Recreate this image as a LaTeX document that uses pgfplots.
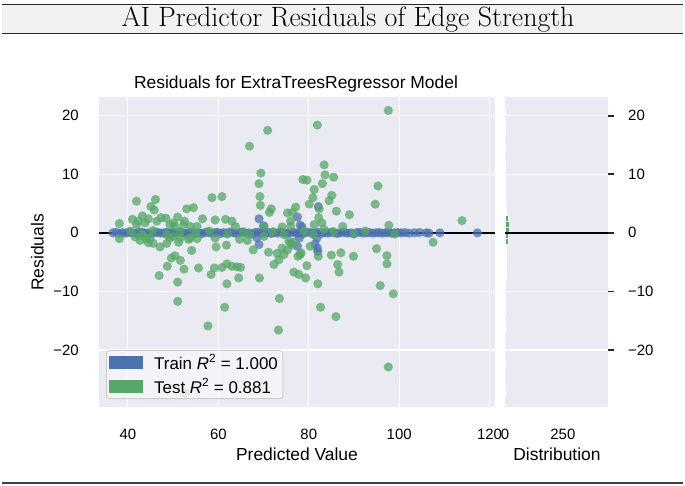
\documentclass[border=0pt]{standalone}
\usepackage{fontspec}
\usepackage{pgfplots}
\pgfplotsset{compat=1.18}
\newfontfamily\arial{Liberation Sans}
\definecolor{bggray}{HTML}{EAEAF2}
\definecolor{trainblue}{HTML}{4C72B0}
\definecolor{testgreen}{HTML}{55A868}
\definecolor{bandgray}{HTML}{F2F2F2}

\pgfplotsset{
  sns/.style={
    scale only axis,
    height=310bp,
    axis background/.style={fill=bggray},
    axis line style={draw=none},
    major grid style={white, line width=1.1bp},
    ymin=-29.73, ymax=23.19,
    ytick={-20,-10,0,10,20},
    yticklabels={−20,−10,0,10,20},
    ticklabel style={font=\arial\fontsize{15}{18}\selectfont, inner sep=0pt},
    xticklabel style={anchor=base, yshift=-32bp},
  },
}

\begin{document}
\begin{tikzpicture}
\useasboundingbox (0,0) rectangle (685bp,-486bp);

% header band
\fill[bandgray] (2bp,-4.7bp) rectangle (683bp,-33.7bp);
\draw[black!85, line width=1bp] (2bp,-4.7bp) -- (683bp,-4.7bp);
\draw[black!85, line width=1bp] (2bp,-33.7bp) -- (683bp,-33.7bp);
\node[anchor=base, inner sep=0pt, font=\fontsize{28}{32}\selectfont] at (348bp,-26.5bp)
  {AI Predictor Residuals of Edge Strength};
\draw[black!75, line width=2bp] (2bp,-482.7bp) -- (683bp,-482.7bp);

% residuals vs predicted
\begin{axis}[sns,
  at={(99bp,-407bp)}, anchor=south west, width=396bp,
  xmin=33.6, xmax=121.2,
  xtick={40,60,80,100,120}, xticklabels={40,60,80,100,120},
  grid=major, major tick length=0pt,
  yticklabel style={anchor=east, xshift=-20bp},
  legend cell align=left,
  legend style={at={(axis description cs:0,0)}, anchor=south west,
    xshift=7bp, yshift=8bp,
    fill=bggray!40!white, fill opacity=0.8, text opacity=1, draw opacity=1,
    draw=black!20, line width=0.8bp, rounded corners=3bp,
    font=\arial\fontsize{17}{20}\selectfont,
    inner xsep=3bp, inner ysep=2bp, row sep=4bp,
    nodes={inner sep=2bp},
    /tikz/every odd column/.append style={column sep=9bp}},
]
\addlegendimage{legend image code/.code={\fill[trainblue, fill opacity=1, sharp corners] (0bp,-6bp) rectangle (33bp,6bp);}}
\addlegendentry{Train \textit{R}\textsuperscript{2} = 1.000}
\addlegendimage{legend image code/.code={\fill[testgreen, fill opacity=1, sharp corners] (0bp,-6bp) rectangle (33bp,6bp);}}
\addlegendentry{Test \textit{R}\textsuperscript{2} = 0.881}

% train residuals
\addplot[only marks, mark=*, mark size=4.6bp, forget plot, color=trainblue,
  mark options={draw opacity=0, fill=trainblue, fill opacity=0.75}] coordinates {
(36.7,0.00) (37.4,0.10) (38.1,-0.10) (38.8,0.05) (39.5,-0.05) (40.2,0.10)
(40.9,0.00) (41.6,-0.10) (42.3,0.05) (43.0,0.15) (43.7,-0.05) (44.4,0.00)
(45.1,-0.15) (45.8,0.05) (46.5,0.10) (47.2,-0.05) (47.9,0.00) (48.6,0.10)
(49.3,-0.10) (50.0,0.05) (50.7,-0.05) (51.4,0.15) (52.1,0.00) (52.8,-0.10)
(53.5,0.05) (54.2,0.10) (54.9,-0.05) (55.6,0.00) (56.3,-0.15) (57.0,0.05)
(57.7,0.10) (58.4,-0.05) (59.1,0.00) (59.8,0.10) (60.5,-0.10) (61.2,0.05)
(61.9,-0.05) (62.6,0.15) (63.3,0.00) (64.0,-0.10) (64.7,0.05) (65.4,0.10)
(66.1,-0.05) (66.8,0.00) (67.5,-0.15) (68.2,0.05) (68.9,0.10) (69.6,-0.05)
(70.3,0.00) (71.0,0.10) (71.7,-0.10) (72.4,0.05) (73.1,-0.05) (73.8,0.15)
(74.5,0.00) (75.2,-0.10) (75.9,0.05) (76.6,0.10) (77.3,-0.05) (78.0,0.00)
(78.7,-0.15) (79.4,0.05) (80.1,0.10) (80.8,-0.05) (81.5,0.00) (82.2,0.10)
(82.9,-0.10) (83.6,0.05) (84.3,-0.05) (85.0,0.15) (85.7,0.00) (86.4,-0.10)
(87.1,0.05) (87.8,0.10) (88.5,-0.05) (89.2,0.00) (89.9,-0.10) (90.6,0.05)
(91.3,0.10) (92.0,-0.05) (92.7,0.00) (93.4,0.05) (94.1,-0.05) (94.8,0.00)
(95.5,0.05) (96.2,-0.05) (96.9,0.00) (97.6,0.05) (98.3,-0.05) (99.0,0.00)
(99.7,0.05) (100.5,0.00) (101.3,0.05) (102.2,-0.05) (103.4,0.00) (104.5,0.05)
(106.0,0.00) (106.6,-0.05) (109.0,0.00) (117.3,0.00)
(69.0,2.4) (69.0,-2.0) (77.5,2.7) (78.1,1.3) (77.9,-0.9) (77.5,-2.3)
(82.1,4.5) (81.8,-0.9) (81.9,-2.6) (82.0,-3.2) (78.5,1.0) (81.4,-1.9)
(70.0,1.2) (68.5,-0.8)
};

% test residuals
\addplot[only marks, mark=*, mark size=4.6bp, forget plot, color=testgreen,
  mark options={draw opacity=0, fill=testgreen, fill opacity=0.75}] coordinates {
(97.6,20.9) (81.9,18.4) (70.9,17.5) (66.9,14.8) (83.4,11.6) (69.4,10.2)
(83.6,9.9) (85.5,9.5) (78.7,9.1) (79.6,9.0) (69.0,8.4) (83.0,8.4)
(95.3,8.0) (81.2,7.4) (69.2,6.2) (85.1,6.4) (80.9,6.0) (84.5,5.5)
(94.7,4.9) (41.9,5.4) (46.1,5.7) (45.1,4.5) (45.8,3.9) (58.6,6.0)
(60.8,6.2) (53.0,4.1) (54.5,4.3) (69.3,4.7) (71.7,4.1) (71.3,3.5)
(77.1,4.4) (75.3,3.4) (76.4,3.5) (80.1,4.9) (82.3,4.1) (86.1,3.7)
(89.0,3.1) (41.0,2.3) (43.2,2.9) (44.5,2.4) (47.3,2.6) (48.4,2.5)
(51.0,2.7) (56.5,2.4) (59.3,2.2) (61.6,2.3) (63.0,2.0) (76.0,2.0)
(82.2,2.6) (82.9,1.7) (87.5,1.1) (97.7,1.3) (113.9,2.1) (38.1,1.6)
(41.9,1.4) (50.1,1.7) (52.3,1.4) (53.8,1.1) (63.8,1.1) (70.1,1.1)
(74.1,1.0) (76.0,1.1) (81.2,1.4) (83.4,0.6) (42.3,2.0) (43.8,1.7)
(46.4,2.0) (49.3,1.4) (50.4,1.1) (52.5,2.0) (55.3,1.1)
(38.1,-1.0) (41.6,-0.7) (42.7,-1.3) (44.5,-1.7) (45.6,-1.8) (47.1,-2.4)
(48.6,-1.8) (51.2,-1.6) (53.8,-0.9) (59.3,-0.9) (59.5,-2.4) (61.8,-2.1)
(64.7,-1.1) (66.4,-1.3) (67.7,-2.9) (70.1,-0.6) (71.1,-3.3) (73.0,-3.5)
(74.1,-2.6) (76.0,-1.8) (76.7,-1.6) (78.1,-3.7) (80.3,-2.3) (82.1,-4.0)
(85.0,-3.8) (87.1,-3.4) (89.9,-4.0) (95.0,-2.7) (97.3,-3.9) (107.5,-1.6)
(50.4,-3.9) (49.6,-4.3) (51.6,-4.7) (54.1,-3.0) (48.7,-5.7) (52.4,-6.2)
(55.6,-6.0) (58.4,-7.1) (59.1,-6.0) (60.8,-5.9) (61.9,-5.3) (63.0,-5.7)
(64.1,-5.8) (64.9,-5.9) (64.5,-7.7) (69.1,-7.7) (72.3,-5.4) (73.4,-4.6)
(74.5,-3.7) (76.7,-6.7) (77.8,-7.1) (79.6,-5.6) (79.3,-7.7) (86.4,-5.4)
(86.7,-6.7) (97.3,-5.3) (46.9,-7.3) (51.0,-8.4) (61.9,-8.7) (82.0,-8.7)
(95.8,-9.0) (98.7,-10.4) (73.5,-11.2) (51.0,-11.7) (61.4,-12.7) (82.6,-12.7)
(86.0,-14.3) (57.7,-15.9) (73.3,-16.6) (97.6,-22.9) (52.7,-27.4)
(50.0,-0.6) (51.6,-0.9) (44.1,-1.0) (43.4,-0.5) (44.9,-0.9) (53.4,-1.1)
(55.3,-1.0) (49.3,-0.9) (75.6,-1.4) (76.3,-2.0) (75.3,-2.9) (77.6,-4.0)
(78.3,-3.4)
(40.5,0.3) (43.0,-0.2) (45.5,0.4) (48.5,-0.3) (51.5,0.2) (55.0,-0.1)
(58.0,0.3) (62.0,-0.2) (65.5,0.2) (67.0,-0.3) (72.0,0.2) (74.5,-0.3)
(79.0,0.3) (81.0,-0.3) (85.5,0.2) (90.0,-0.2) (92.5,0.3) (99.0,-0.2)
};

\addplot[black, line width=2bp, forget plot] coordinates {(33.6,0) (121.2,0)};
\end{axis}

% distribution of residuals
\begin{axis}[sns,
  at={(505bp,-407bp)}, anchor=south west, width=103bp,
  xmin=0, xmax=445, xtick={0,250}, xticklabels={0,250},
  ymajorgrids, xmajorgrids=false,
  ytick pos=right, yticklabel pos=right,
  major tick length=6bp, tick align=outside,
  ytick style={line width=1.8bp, black!85},
  xtick style={draw=none},
  xticklabel style={yshift=6bp},
  yticklabel style={anchor=west, xshift=14bp},
]
\addplot[xbar interval, fill=testgreen, draw=white, line width=0.6bp] coordinates {
(1,-28) (0,-27) (0,-26) (0,-25) (0,-24) (1,-23) (0,-22) (0,-21) (0,-20)
(0,-19) (0,-18) (1,-17) (1,-16) (0,-15) (1,-14) (2,-13) (1,-12) (1,-11)
(1,-10) (2,-9) (4,-8) (4,-7) (7,-6) (5,-5) (7,-4) (6,-3) (13,-2) (13,-1)
(20,0) (17,1) (13,2) (6,3) (4,4) (3,5) (3,6) (1,7) (3,8) (3,9) (1,10)
(1,11) (0,12) (0,13) (1,14) (0,15) (0,16) (1,17) (1,18) (0,19) (1,20) (0,21)
};
\addplot[black, line width=2bp] coordinates {(0,0) (445,0)};
\end{axis}

% titles and axis labels
\begin{scope}[font=\arial\fontsize{17.5}{21}\selectfont]
\node[anchor=base, inner sep=0pt] at (296bp,-88bp) {Residuals for ExtraTreesRegressor Model};
\node[anchor=base, inner sep=0pt] at (297bp,-460bp) {Predicted Value};
\node[anchor=base, inner sep=0pt] at (557bp,-460bp) {Distribution};
\node[anchor=base, inner sep=0pt, rotate=90] at (43.5bp,-252.5bp) {Residuals};
\end{scope}
\end{tikzpicture}
\end{document}
